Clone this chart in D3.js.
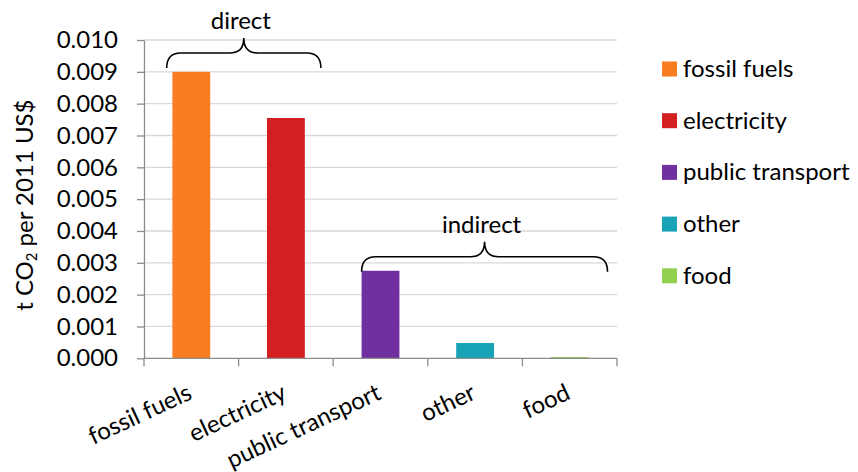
<!DOCTYPE html>
<html><head><meta charset="utf-8">
<script src="https://cdn.jsdelivr.net/npm/d3@7"></script>
<style>
html,body{margin:0;padding:0;background:#fff;}
text{font-family:Lato,"Open Sans",sans-serif;fill:#000;}
</style></head>
<body><svg id="c" width="858" height="472"></svg>
<script>
const categories = ["fossil fuels","electricity","public transport","other","food"];
const values = [0.0090, 0.00755, 0.00275, 0.00048, 0.00004];
const colors = ["#F97E22","#D21F1F","#7030A0","#19A3B7","#92D050"];
const yTicks = [0,0.001,0.002,0.003,0.004,0.005,0.006,0.007,0.008,0.009,0.010];
const groupLabels = ["direct","indirect"];
const groupStart = ["fossil fuels","public transport"];
const groupEnd = ["electricity","food"];
const groupBase = [0.00912, 0.00272];

const FS = 24;
const svg = d3.select("#c");
const m = {l:144, r:858-617, t:40, b:472-358.3};
const W = 858, H = 472;

const x = d3.scaleBand().domain(categories).range([m.l, W-m.r]).paddingInner(0.6).paddingOuter(0.3);
const xs = d3.scaleBand().domain(categories).range([m.l, W-m.r]).padding(0);
const y = d3.scaleLinear().domain([0,0.010]).range([H-m.b, m.t]);

// gridlines
svg.append("g").selectAll("line").data(yTicks.slice(1)).join("line")
  .attr("x1", m.l).attr("x2", W-m.r)
  .attr("y1", d=>y(d)).attr("y2", d=>y(d))
  .attr("stroke","#d9d9d9").attr("stroke-width",1.3);

// bars
svg.append("g").selectAll("rect").data(values).join("rect")
  .attr("x",(d,i)=>x(categories[i])).attr("width",x.bandwidth())
  .attr("y",d=>y(d)).attr("height",d=>y(0)-y(d))
  .attr("fill",(d,i)=>colors[i]);

// y axis
const ya = svg.append("g").attr("transform",`translate(${m.l},0)`)
  .call(d3.axisLeft(y).tickValues(yTicks).tickFormat(d3.format(".3f")).tickSizeInner(7).tickSizeOuter(0).tickPadding(19));
ya.select(".domain").attr("stroke","#8c8c8c").attr("stroke-width",1.3);
ya.selectAll(".tick line").attr("stroke","#8c8c8c").attr("stroke-width",1.3);
ya.selectAll("text").style("font-size",FS+"px").style("font-family","Lato");

// x axis
const xa = svg.append("g").attr("transform",`translate(0,${y(0)})`);
xa.append("line").attr("x1",m.l).attr("x2",W-m.r).attr("stroke","#8c8c8c").attr("stroke-width",1.3);
const edges = categories.map(c=>xs(c)).concat([W-m.r]);
xa.selectAll("line.t").data(edges).join("line").attr("class","t")
  .attr("x1",d=>d).attr("x2",d=>d).attr("y1",0).attr("y2",8)
  .attr("stroke","#8c8c8c").attr("stroke-width",1.3);
svg.append("g").selectAll("text").data(categories).join("text")
  .attr("text-anchor","end")
  .attr("transform",d=>`translate(${xs(d)+xs.bandwidth()/2+2},${y(0)+40}) rotate(-25)`)
  .style("font-size",FS+"px").text(d=>d);

// y title
const yt = svg.append("text").attr("text-anchor","middle")
  .attr("transform",`translate(33,${(y(0)+y(0.010))/2+6}) rotate(-90)`)
  .style("font-size",FS+"px");
yt.append("tspan").text("t CO");
yt.append("tspan").text("2").attr("baseline-shift","-25%").style("font-size",(FS*0.62)+"px");
yt.append("tspan").text(" per 2011 US$");

// braces
groupLabels.forEach((lab,i)=>{
  const x1 = xs(groupStart[i]) + xs.bandwidth()*(i===0?0.24:0.30);
  const x2 = xs(groupEnd[i]) + xs.bandwidth()*(i===0?0.87:0.90);
  const yb = y(groupBase[i]);
  const ym = yb-15, yt2 = yb-30, r=14, xm=(x1+x2)/2;
  const p = `M${x1},${yb} Q${x1},${ym} ${x1+r},${ym} L${xm-r},${ym} Q${xm},${ym} ${xm},${yt2} Q${xm},${ym} ${xm+r},${ym} L${x2-r},${ym} Q${x2},${ym} ${x2},${yb}`;
  svg.append("path").attr("d",p).attr("fill","none").attr("stroke","#000").attr("stroke-width",1.6);
  svg.append("text").attr("x",xm-3).attr("y",yt2-9).attr("text-anchor","middle")
    .style("font-size",FS+"px").text(lab);
});

// legend
const lg = svg.append("g").selectAll("g").data(categories).join("g")
  .attr("transform",(d,i)=>`translate(662,${69+i*51.7})`);
lg.append("rect").attr("x",0).attr("y",-7.5).attr("width",15).attr("height",15).attr("fill",(d,i)=>colors[i]);
lg.append("text").attr("x",21).attr("y",8).style("font-size",FS+"px").text(d=>d);
</script></body></html>
